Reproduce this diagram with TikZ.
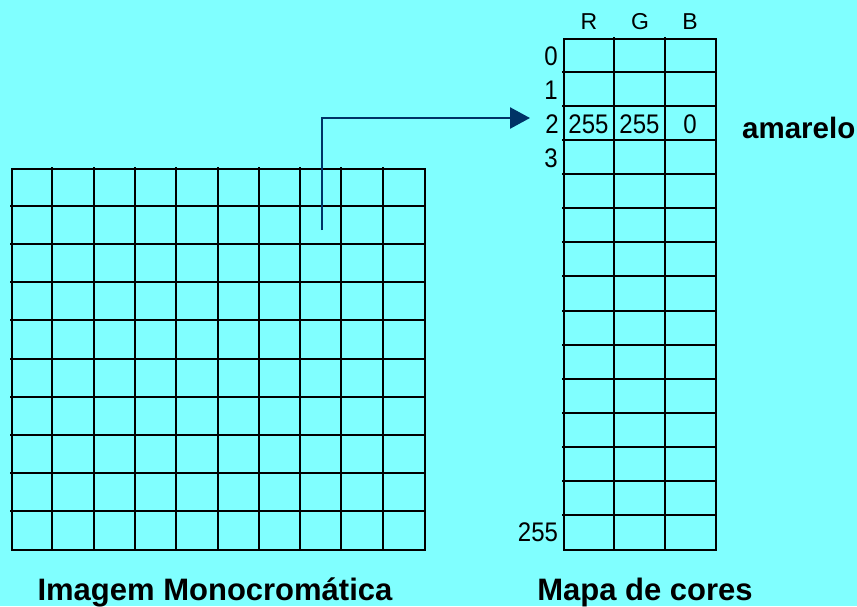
\documentclass[tikz,border=0pt]{standalone}
\usepackage{fontspec}
\setmainfont{Liberation Sans}
\usetikzlibrary{arrows.meta}
\definecolor{bgcyan}{HTML}{80FFFF}
\definecolor{arrownavy}{HTML}{003366}
\begin{document}
\begin{tikzpicture}[x=1pt,y=-1pt,
  gridline/.style={draw=black,line width=2pt,line cap=rect},
  framebox/.style={draw=black,line width=2pt,inner sep=0pt,anchor=north west},
  collbl/.style={font=\fontsize{23}{23}\selectfont,inner sep=0pt},
  numlbl/.style={font=\fontsize{24}{24}\selectfont,inner sep=0pt},
  title/.style={font=\bfseries\fontsize{31}{31}\selectfont,inner sep=0pt,anchor=base},
  link/.style={draw=arrownavy,line width=2.5pt,-{Triangle[length=20pt,width=21pt]}}]
\fill[bgcyan] (0,0) rectangle (857,606);
\useasboundingbox (0,0) rectangle (857,606);
% left image grid
\node[framebox,minimum width=413pt,minimum height=381pt] (img) at (11,168) {};
\foreach \i in {1,...,9}{
  \draw[gridline] ({11+41.3*\i},168) -- ({11+41.3*\i},549);
  \draw[gridline] (11,{168+38.1*\i}) -- (424,{168+38.1*\i});
}
% colour map
\node[framebox,minimum width=152pt,minimum height=511pt] (cmap) at (563,38) {};
\foreach \x in {614,665}{
  \draw[gridline] (\x,38) -- (\x,549);
}
\foreach \i in {1,...,14}{
  \draw[gridline] (563,{38+34.067*\i}) -- (715,{38+34.067*\i});
}
% column labels
\node[collbl] (cR) at (589,22) {R};
\node[collbl] (cG) at (640,22) {G};
\node[collbl] (cB) at (690,22) {B};
% row labels
\node[numlbl] (r0) at (551,56) {\scalebox{1}[1.12]{0}};
\node[numlbl] (r1) at (551,90) {\scalebox{1}[1.12]{1}};
\node[numlbl] (r2) at (552,124) {\scalebox{1}[1.12]{2}};
\node[numlbl] (r3) at (551,158) {\scalebox{1}[1.12]{3}};
\node[numlbl] (r255) at (538,532) {\scalebox{1}[1.12]{255}};
% entries
\node[numlbl] (vR) at (588.5,124) {\scalebox{1}[1.12]{255}};
\node[numlbl] (vG) at (639.5,124) {\scalebox{1}[1.12]{255}};
\node[numlbl] (vB) at (690,124) {\scalebox{1}[1.12]{0}};
\node[font=\bfseries\fontsize{29.5}{30}\selectfont,inner sep=0pt,anchor=base west] (am) at (742,138) {amarelo};
% titles
\node[title] (t1) at (215,600) {Imagem Monocromática};
\node[title] (t2) at (645,600) {Mapa de cores};
% arrow
\coordinate (from) at (322,230);
\coordinate (to) at (530,118);
\draw[link] (from) |- (to);
\end{tikzpicture}
\end{document}
